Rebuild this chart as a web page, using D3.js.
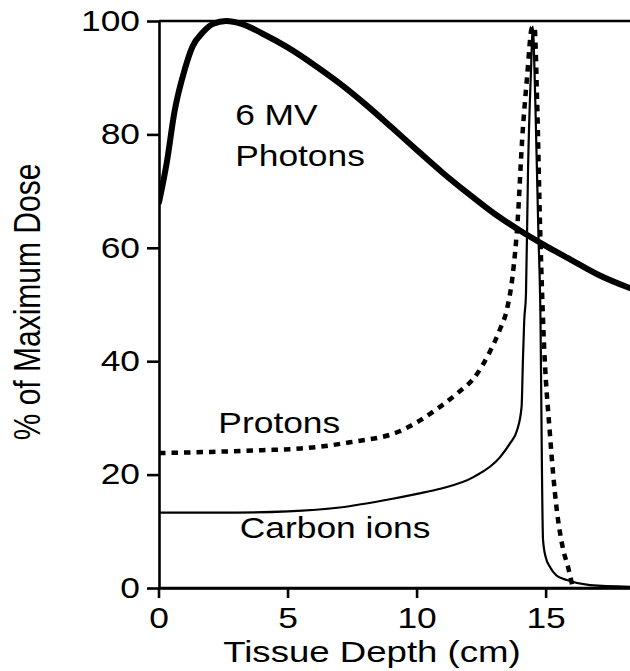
<!DOCTYPE html>
<html>
<head>
<meta charset="utf-8">
<script src="https://cdn.jsdelivr.net/npm/d3@7"></script>
<style>
  html, body { margin: 0; padding: 0; background: #fff; }
  svg { display: block; }
  text { font-family: "Liberation Sans", Arial, Helvetica, sans-serif; fill: #000; }
</style>
</head>
<body>
<svg id="chart" width="630" height="671"></svg>
<script>
// ---- data ----
const photonDepth = [0, 0.3, 0.6, 1.0, 1.3, 1.7, 2.1, 2.6, 3.2, 4, 5, 6, 7, 8, 9, 10, 11, 12, 13, 14, 15, 16, 17, 18.3];
const photonDose  = [68, 75, 84, 91.5, 95.5, 98, 99.5, 100, 99.5, 97.8, 95.3, 92.3, 89, 85.3, 81.3, 77.2, 73.2, 69.5, 66, 63, 60.3, 57.8, 55.3, 52.8];

const protonDepth = [0, 2, 4, 5.5, 7.4, 9.3, 10.9, 11.6, 12.2, 12.8, 13.2, 13.5, 13.7, 13.9, 14.07, 14.26, 14.45, 14.55, 14.65, 14.77, 14.9, 15.15, 15.4, 15.65, 15.85, 16.02];
const protonDose  = [23.8, 24.0, 24.3, 24.6, 25.7, 27.6, 32, 34.5, 37, 41.5, 45.5, 49.5, 55, 65, 79, 90, 98.8, 99, 86, 63, 45, 27, 14.3, 7, 3.7, 0.3];

const carbonDepth = [0, 3, 5, 7, 9, 10, 10.9, 12.2, 13.2, 13.6, 13.88, 14.05, 14.1, 14.15, 14.22, 14.3, 14.42, 14.48, 14.58, 14.7, 14.77, 14.88, 14.98, 15.15, 15.4, 15.8, 16.7, 18.3];
const carbonDose  = [13.3, 13.3, 13.5, 14.2, 15.7, 16.6, 17.5, 19.6, 23, 25.5, 27.9, 32, 40, 47, 52, 74, 92, 99, 86, 62.6, 50.8, 8.5, 5.5, 3.7, 2.2, 1.4, 0.5, 0.2];

const xTicks = [0, 5, 10, 15];
const yTicks = [0, 20, 40, 60, 80, 100];

const labels = [
  { text: "6 MV", depth: 2.95, dose: 81.7 },
  { text: "Photons", depth: 2.95, dose: 74.4 },
  { text: "Protons", depth: 2.3, dose: 27.3 },
  { text: "Carbon ions", depth: 3.13, dose: 8.8 }
];

// ---- layout ----
const svg = d3.select("#chart");
const W = 630, H = 671;
const x = d3.scaleLinear().domain([0, 18.25]).range([159, 630]);
const y = d3.scaleLinear().domain([0, 100]).range([588, 21]);
const SX = 1.22;   // horizontal stretch of text in the original
const FS = 29;

svg.append("defs").append("clipPath").attr("id", "clip")
  .append("rect").attr("x", x(0)).attr("y", 0).attr("width", W - x(0)).attr("height", y(0));

const toPts = (xs, ys) => xs.map((d, i) => [d, ys[i]]);
const line = d3.line().x(d => x(d[0])).y(d => y(d[1])).curve(d3.curveMonotoneX);

const g = svg.append("g").attr("clip-path", "url(#clip)");

g.append("path").datum(toPts(carbonDepth, carbonDose))
  .attr("d", line).attr("fill", "none").attr("stroke", "#000").attr("stroke-width", 2.2)
  .attr("stroke-linejoin", "round");
g.append("path").datum(toPts(protonDepth, protonDose))
  .attr("d", line).attr("fill", "none").attr("stroke", "#000").attr("stroke-width", 4.5)
  .attr("stroke-dasharray", "6.5,6");
g.append("path").datum(toPts(photonDepth, photonDose))
  .attr("d", line).attr("fill", "none").attr("stroke", "#000").attr("stroke-width", 6)
  .attr("stroke-linejoin", "round").attr("stroke-linecap", "round");

// ---- axes ----
const yAxis = svg.append("g").attr("transform", `translate(${x(0)},0)`)
  .call(d3.axisLeft(y).tickValues(yTicks).tickSize(12).tickSizeOuter(0).tickPadding(7));
const xAxis = svg.append("g").attr("transform", `translate(0,${y(0)})`)
  .call(d3.axisBottom(x).tickValues(xTicks).tickSize(10).tickSizeOuter(0).tickPadding(9));

[yAxis, xAxis].forEach(a => {
  a.select(".domain").attr("stroke", "#000").attr("stroke-width", 2.6);
  a.selectAll(".tick line").attr("stroke", "#000").attr("stroke-width", 2.6);
  a.selectAll(".tick text").attr("font-size", FS).attr("font-family", null).attr("fill", "#000");
});
yAxis.selectAll(".tick text").attr("x", -19 / SX).attr("transform", `scale(${SX},1)`);
xAxis.selectAll(".tick text").attr("transform", `scale(${SX},1)`)
  .each(function(d){ d3.select(this.parentNode).attr("transform", `translate(${x(d)},0)`); });

// extend bottom axis to the right edge, top border
svg.append("line").attr("x1", x(0)).attr("x2", W).attr("y1", y(0)).attr("y2", y(0))
  .attr("stroke", "#000").attr("stroke-width", 2.6);
svg.append("line").attr("x1", x(0)).attr("x2", W).attr("y1", y(100)).attr("y2", y(100))
  .attr("stroke", "#000").attr("stroke-width", 2.6);

// ---- annotations ----
labels.forEach(l => {
  svg.append("text")
    .attr("transform", `translate(${x(l.depth)},${y(l.dose)}) scale(${SX},1)`)
    .attr("font-size", FS).text(l.text);
});

// axis titles
svg.append("text")
  .attr("transform", `translate(372,662) scale(${SX},1)`)
  .attr("text-anchor", "middle").attr("font-size", FS + 1).text("Tissue Depth (cm)");
svg.append("text")
  .attr("transform", `translate(40,302) scale(${SX},1) rotate(-90)`)
  .attr("text-anchor", "middle").attr("font-size", FS + 1).text("% of Maximum Dose");
</script>
</body>
</html>
